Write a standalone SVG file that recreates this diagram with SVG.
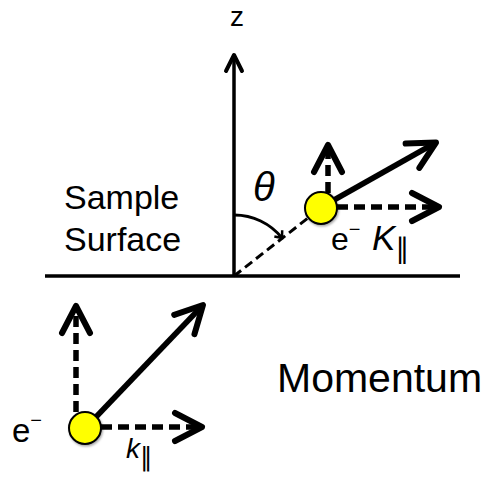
<svg xmlns="http://www.w3.org/2000/svg" width="482" height="478" viewBox="0 0 482 478">
<style>
text{font-family:"Liberation Sans",Arial,"DejaVu Sans",sans-serif;fill:#000}
.ax{stroke:#000;stroke-width:3.5;fill:none}
.solid{stroke:#000;stroke-width:5.5;fill:none;marker-end:url(#ah)}
.dash{stroke:#000;stroke-width:5.5;fill:none;stroke-dasharray:11 6;marker-end:url(#ah)}
.ball{fill:#ffff00;stroke:#000;stroke-width:2;filter:url(#sh)}
.par{font-family:"DejaVu Sans",sans-serif;font-style:normal}
</style>
<defs>
<marker id="ah" markerUnits="userSpaceOnUse" viewBox="-32 -18 36 36" refX="0" refY="0" markerWidth="36" markerHeight="36" orient="auto" overflow="visible">
<path d="M-27,-14 L0,0 L-27,14" fill="none" stroke="#000" stroke-width="6" stroke-linecap="round" stroke-linejoin="round"/>
</marker>
<marker id="ahz" markerUnits="userSpaceOnUse" viewBox="-20 -12 24 24" refX="0" refY="0" markerWidth="24" markerHeight="24" orient="auto" overflow="visible">
<path d="M-16,-8 L0,0 L-16,8" fill="none" stroke="#000" stroke-width="4" stroke-linecap="round" stroke-linejoin="round"/>
</marker>
<marker id="ahs" markerUnits="userSpaceOnUse" viewBox="-8 -6 10 12" refX="0" refY="0" markerWidth="10" markerHeight="12" orient="auto" overflow="visible">
<path d="M-6,-5 L0,0 L-6,5" fill="none" stroke="#000" stroke-width="2.5"/>
</marker>
<filter id="sh" x="-30%" y="-30%" width="170%" height="170%">
<feDropShadow dx="1" dy="1.5" stdDeviation="1.2" flood-opacity="0.35"/>
</filter>
</defs>

<g id="axes">
<line class="ax" x1="45" y1="276" x2="460" y2="276"/>
<line class="ax" x1="234" y1="276" x2="234" y2="55" marker-end="url(#ahz)"/>
<text x="230" y="26" font-size="28">z</text>
</g>

<g id="connectors">
<line x1="234" y1="276" x2="308" y2="218" stroke="#000" stroke-width="3" stroke-dasharray="9 5"/>
<path d="M234,215 A61,61 0 0 1 282,238" fill="none" stroke="#000" stroke-width="3" marker-end="url(#ahs)"/>
<line class="dash" x1="328" y1="193" x2="328" y2="145"/>
<line class="dash" x1="337" y1="207" x2="439" y2="207"/>
<line class="solid" x1="334" y1="200" x2="436" y2="142.5"/>
<line class="dash" x1="76" y1="412" x2="76" y2="306"/>
<line class="dash" x1="101" y1="427" x2="202" y2="427"/>
<line class="solid" x1="95" y1="418" x2="203" y2="305"/>
</g>

<g id="electron-out">
<circle class="ball" cx="321" cy="208" r="16"/>
<text x="331" y="250" font-size="32">e<tspan font-size="20" dy="-14">−</tspan></text>
<text x="372" y="250" font-size="35" font-style="italic">K<tspan class="par" font-size="28" dy="8">∥</tspan></text>
</g>

<g id="electron-in">
<circle class="ball" cx="85" cy="428" r="16"/>
<text x="12" y="442" font-size="33">e<tspan font-size="20" dy="-15">−</tspan></text>
<text x="126" y="458" font-size="28" font-style="italic">k<tspan class="par" font-size="26" dy="8">∥</tspan></text>
</g>

<g id="theta">
<text x="253" y="201" font-size="40" font-style="italic" font-family="'Liberation Serif','DejaVu Serif',serif">θ</text>
</g>

<g id="labels">
<text x="64" y="209" font-size="34">Sample</text>
<text x="64" y="251" font-size="34">Surface</text>
<text x="277" y="392" font-size="41">Momentum</text>
</g>
</svg>
